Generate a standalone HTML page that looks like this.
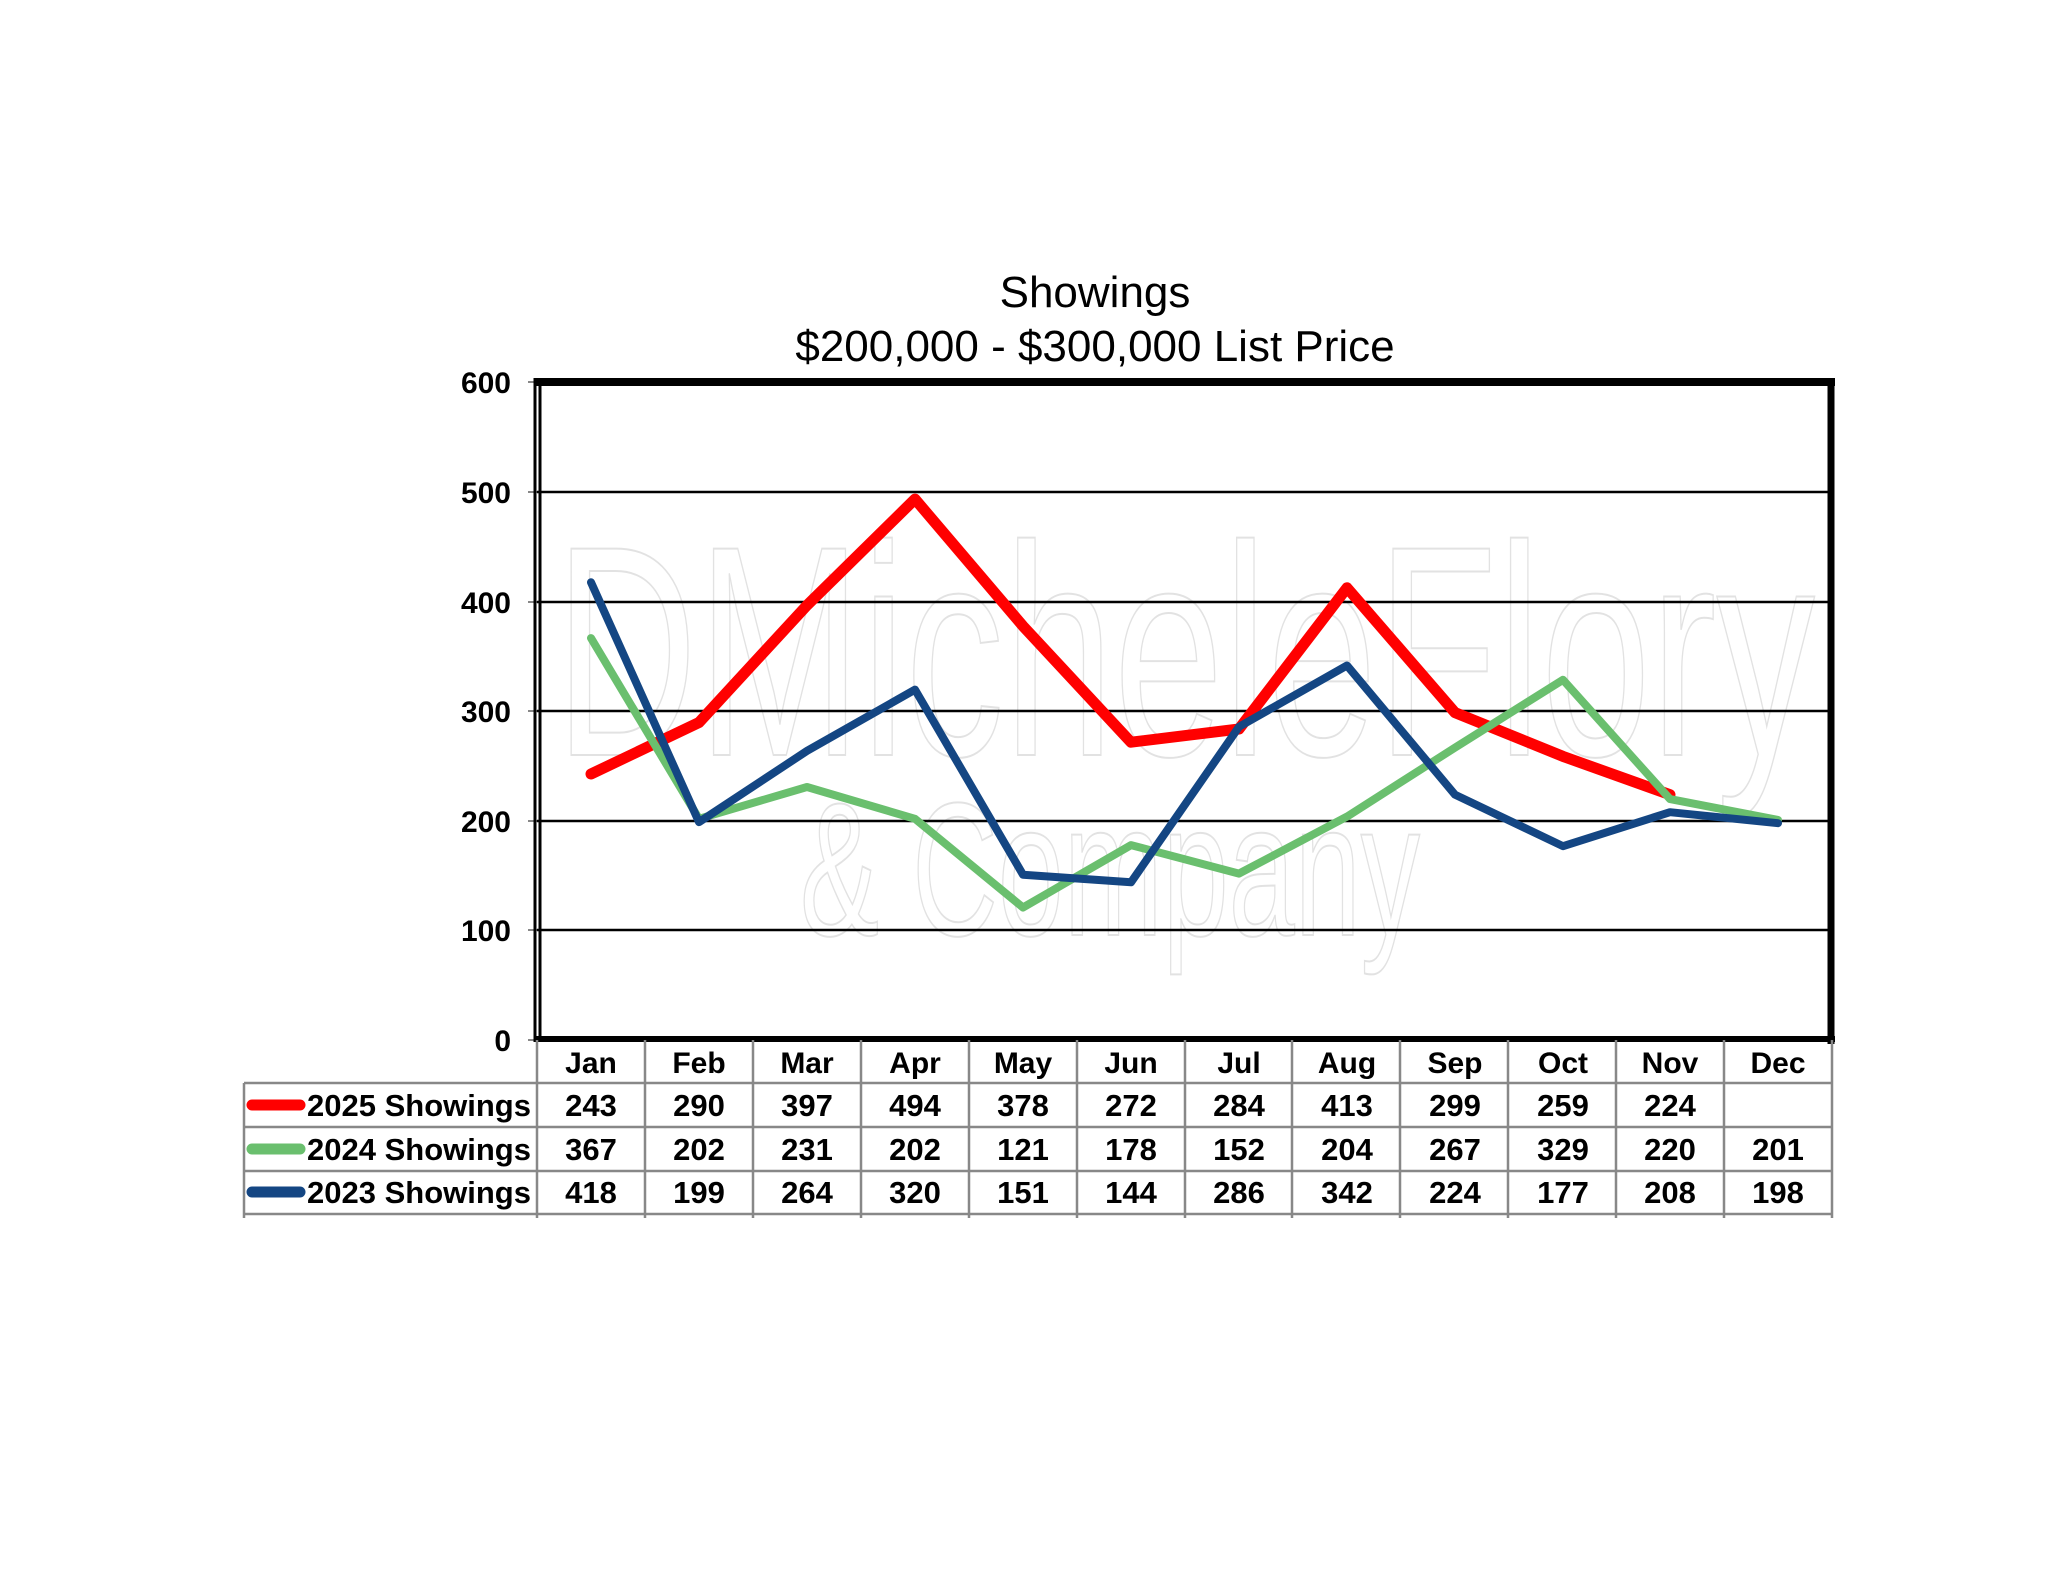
<!DOCTYPE html>
<html><head><meta charset="utf-8"><style>
html,body{margin:0;padding:0;background:#fff;}
svg{display:block;font-family:"Liberation Sans",Arial,sans-serif;}
</style></head><body>
<svg width="2048" height="1583" viewBox="0 0 2048 1583" xmlns="http://www.w3.org/2000/svg">
<rect width="2048" height="1583" fill="#fff"/>
<g fill="none" stroke="#e2e2e2" stroke-width="2" font-size="300" font-family="Liberation Sans, sans-serif">
<text x="555" y="755" textLength="1260" lengthAdjust="spacingAndGlyphs">DMicheleFlory</text>
<text x="800" y="935" font-size="190" textLength="620" lengthAdjust="spacingAndGlyphs">&amp; Company</text>
</g>
<text x="1095" y="307" font-size="44" text-anchor="middle">Showings</text>
<text x="1095" y="361" font-size="44" text-anchor="middle">$200,000 - $300,000 List Price</text>
<g stroke="#000" stroke-width="2.5">
<line x1="537" y1="492" x2="1832" y2="492"/>
<line x1="537" y1="602" x2="1832" y2="602"/>
<line x1="537" y1="711" x2="1832" y2="711"/>
<line x1="537" y1="821" x2="1832" y2="821"/>
<line x1="537" y1="930" x2="1832" y2="930"/>
</g>
<g stroke="#888" stroke-width="2">
<line x1="528" y1="382" x2="537" y2="382"/><line x1="528" y1="492" x2="537" y2="492"/>
<line x1="528" y1="602" x2="537" y2="602"/><line x1="528" y1="711" x2="537" y2="711"/>
<line x1="528" y1="821" x2="537" y2="821"/><line x1="528" y1="930" x2="537" y2="930"/>
<line x1="528" y1="1040" x2="537" y2="1040"/>
</g>
<line x1="534" y1="382" x2="1835" y2="382" stroke="#000" stroke-width="8"/>
<line x1="1831" y1="378" x2="1831" y2="1044" stroke="#000" stroke-width="7"/>
<line x1="534" y1="1039" x2="1835" y2="1039" stroke="#000" stroke-width="6"/>
<line x1="535" y1="378" x2="535" y2="1042" stroke="#000" stroke-width="3"/>
<line x1="540" y1="386" x2="540" y2="1036" stroke="#000" stroke-width="3"/>
<g font-size="30" font-weight="bold" text-anchor="end">
<text x="511" y="393">600</text><text x="511" y="503">500</text>
<text x="511" y="613">400</text><text x="511" y="722">300</text>
<text x="511" y="832">200</text><text x="511" y="941">100</text>
<text x="511" y="1051">0</text>
</g>
<g fill="none" stroke-linejoin="round" stroke-linecap="round">
<polyline stroke="#ff0000" stroke-width="11" points="591,774 699,722.5 807,605.3 915,499.1 1023,626.1 1131,742.2 1239,729 1347,587.8 1455,712.6 1563,756.4 1670,794.7"/>
<polyline stroke="#6abf6e" stroke-width="8" points="591,638.1 699,818.8 807,787 915,818.8 1023,907.5 1131,845.1 1239,873.6 1347,816.6 1455,747.6 1563,679.8 1670,799.1 1778,819.9"/>
<polyline stroke="#144683" stroke-width="8" points="591,582.3 699,822.1 807,750.9 915,689.6 1023,874.7 1131,882.3 1239,726.8 1347,665.5 1455,794.7 1563,846.2 1670,812.2 1778,823.2"/>
</g>
<g stroke="#888" stroke-width="2.5">
<line x1="244" y1="1083" x2="1832" y2="1083"/>
<line x1="244" y1="1127" x2="1832" y2="1127"/>
<line x1="244" y1="1171" x2="1832" y2="1171"/>
<line x1="244" y1="1214" x2="1832" y2="1214"/>
<line x1="244" y1="1083" x2="244" y2="1218"/>
<line x1="537" y1="1040" x2="537" y2="1218"/>
<line x1="645" y1="1040" x2="645" y2="1218"/><line x1="753" y1="1040" x2="753" y2="1218"/>
<line x1="861" y1="1040" x2="861" y2="1218"/><line x1="969" y1="1040" x2="969" y2="1218"/>
<line x1="1077" y1="1040" x2="1077" y2="1218"/><line x1="1185" y1="1040" x2="1185" y2="1218"/>
<line x1="1292" y1="1040" x2="1292" y2="1218"/><line x1="1400" y1="1040" x2="1400" y2="1218"/>
<line x1="1508" y1="1040" x2="1508" y2="1218"/><line x1="1616" y1="1040" x2="1616" y2="1218"/>
<line x1="1724" y1="1040" x2="1724" y2="1218"/><line x1="1832" y1="1040" x2="1832" y2="1218"/>
</g>
<g stroke-linecap="round" stroke-width="11">
<line x1="252" y1="1105" x2="300" y2="1105" stroke="#ff0000"/>
<line x1="252" y1="1149" x2="300" y2="1149" stroke="#6abf6e"/>
<line x1="252" y1="1192" x2="300" y2="1192" stroke="#144683"/>
</g>
<g font-size="31" font-weight="bold">
<text x="307" y="1116">2025 Showings</text>
<text x="307" y="1160">2024 Showings</text>
<text x="307" y="1203">2023 Showings</text>
</g>
<g font-size="30" font-weight="bold" text-anchor="middle">
<text x="591" y="1073">Jan</text><text x="699" y="1073">Feb</text><text x="807" y="1073">Mar</text><text x="915" y="1073">Apr</text><text x="1023" y="1073">May</text><text x="1131" y="1073">Jun</text><text x="1239" y="1073">Jul</text><text x="1347" y="1073">Aug</text><text x="1455" y="1073">Sep</text><text x="1563" y="1073">Oct</text><text x="1670" y="1073">Nov</text><text x="1778" y="1073">Dec</text>
</g>
<g font-size="31" font-weight="bold" text-anchor="middle">
<text x="591" y="1116">243</text><text x="699" y="1116">290</text><text x="807" y="1116">397</text><text x="915" y="1116">494</text><text x="1023" y="1116">378</text><text x="1131" y="1116">272</text><text x="1239" y="1116">284</text><text x="1347" y="1116">413</text><text x="1455" y="1116">299</text><text x="1563" y="1116">259</text><text x="1670" y="1116">224</text>
<text x="591" y="1160">367</text><text x="699" y="1160">202</text><text x="807" y="1160">231</text><text x="915" y="1160">202</text><text x="1023" y="1160">121</text><text x="1131" y="1160">178</text><text x="1239" y="1160">152</text><text x="1347" y="1160">204</text><text x="1455" y="1160">267</text><text x="1563" y="1160">329</text><text x="1670" y="1160">220</text><text x="1778" y="1160">201</text>
<text x="591" y="1203">418</text><text x="699" y="1203">199</text><text x="807" y="1203">264</text><text x="915" y="1203">320</text><text x="1023" y="1203">151</text><text x="1131" y="1203">144</text><text x="1239" y="1203">286</text><text x="1347" y="1203">342</text><text x="1455" y="1203">224</text><text x="1563" y="1203">177</text><text x="1670" y="1203">208</text><text x="1778" y="1203">198</text>
</g>
</svg>
</body></html>
